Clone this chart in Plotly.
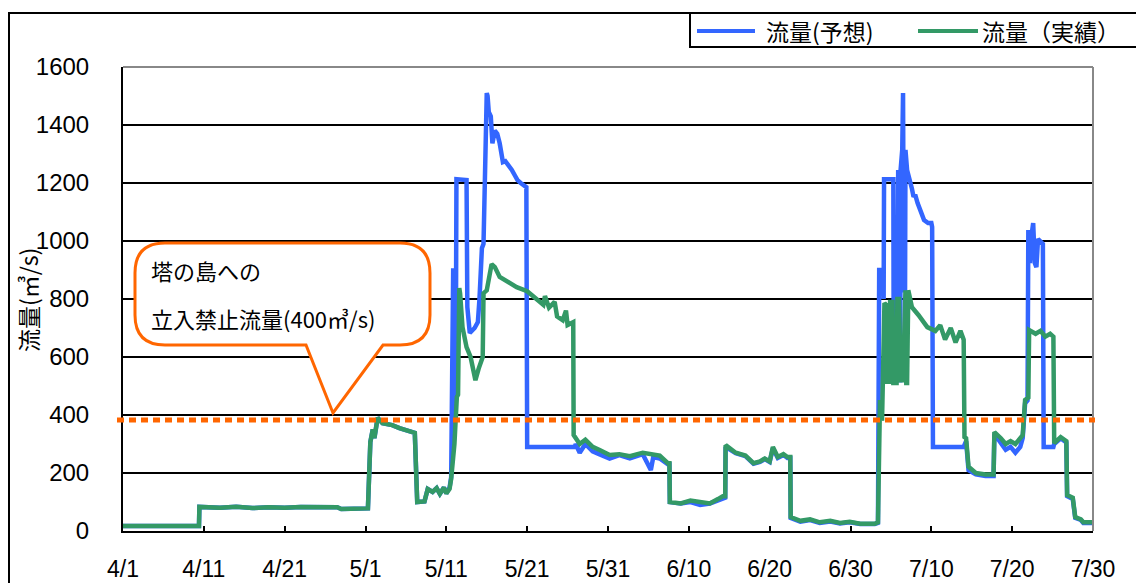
import plotly.graph_objects as go

# ---- data (x = days since 4/1) ----
tick_days = [0, 10, 20, 30, 40, 50, 60, 70, 80, 90, 100, 110, 120]
tick_labels = ["4/1", "4/11", "4/21", "5/1", "5/11", "5/21", "5/31",
               "6/10", "6/20", "6/30", "7/10", "7/20", "7/30"]
y_ticks = [0, 200, 400, 600, 800, 1000, 1200, 1400, 1600]

limit_flow = 383  # 立入禁止流量 line

actual_days = [0, 9.4, 9.45, 12, 14, 16, 18, 20, 22, 24, 26.5, 27, 29, 30.3,
               30.6, 30.9, 31.1, 31.5, 32.1, 33.3, 34.2, 35.2, 36.1, 36.3, 36.4,
               37.3, 37.7, 38.3, 38.8, 39.2, 39.7, 40.0, 40.4, 40.6,
               41.0, 41.3, 41.45, 41.6, 41.7, 42.0, 42.5, 43.0, 43.4, 43.6, 44.0,
               44.2, 44.5, 44.6, 45.0, 45.6, 46.0, 46.6, 47.5, 48.7, 50.0, 51.3,
               52.0, 52.2, 52.7, 53.4, 53.7, 54.4, 54.8, 55.0, 55.5, 55.7,
               55.75, 56.5, 57.2, 58.1, 58.9, 60.2, 61.4, 62.7, 64.3, 65.2, 66.4,
               67.4, 67.6, 67.65, 69.0, 70.2, 71.4, 72.6, 73.6, 74.2, 74.5,
               74.55, 75.8, 77.0, 78.0, 78.8, 79.4, 80.0, 80.4, 81.0, 81.7, 82.2,
               82.55, 82.6, 83.8, 85.0, 86.2, 87.5, 88.7, 89.9, 91.2, 93.0, 93.4,
               93.65, 93.9, 94.2, 94.4, 94.55, 94.8, 94.9, 95.2, 95.3, 95.7, 95.8,
               96.0, 96.2, 96.5, 96.7, 96.8, 96.9, 97.0, 97.15, 97.6, 98.4, 99.5,
               100.5, 101.1, 101.7, 102.4, 103.0, 103.6, 104.0,
               104.1, 104.3, 104.6, 105.5, 106.7, 107.7, 107.8, 108.6, 109.2,
               109.8, 110.4, 111.3, 111.6, 112.0, 112.1, 112.9, 113.5, 114.1,
               114.7, 115.1, 115.2, 116.0, 116.7, 116.8, 117.5, 117.8, 118.5,
               118.8, 120.4]
actual_flow = [17, 17, 83, 80, 84, 79, 82, 80, 83, 81, 82, 76, 75, 78,
               307, 350, 320, 390, 372, 365, 355, 345, 338, 176, 100,
               102, 145, 135, 148, 128, 150, 130, 145, 180,
               300, 462, 470, 838, 820, 703, 634, 600, 540, 520, 560,
               579, 600, 820, 830, 920, 910, 876, 860, 841, 827, 797,
               780, 810, 770, 790, 740, 727, 760, 710, 720, 720,
               331, 300, 315, 290, 280, 262, 265, 258, 270, 265, 260,
               234, 234, 100, 95, 105, 100, 95, 110, 120, 120,
               296, 270, 260, 234, 240, 250, 240, 290, 255, 265, 255,
               255, 48, 35, 40, 30, 35, 28, 32, 25, 25, 30,
               452, 380, 786, 780, 515, 515, 790, 790, 510, 510, 800,
               800, 520, 520, 820, 830, 510, 510, 830, 772, 745, 703,
               690, 710, 660, 700, 650, 690, 660,
               324, 320, 222, 200, 195, 195, 341, 320, 300,
               310, 300, 330, 452, 460, 693, 680, 690, 670,
               680, 670, 303, 324, 310, 124, 115, 48, 40,
               30, 30]

forecast_days = [0, 9.4, 9.45, 12, 14, 16, 18, 20, 22, 24, 26.5, 27, 29, 30.3,
                 30.6, 30.9, 31.1, 31.5, 32.1, 33.3, 34.2, 35.2, 36.1, 36.3, 36.4,
                 37.3, 37.7, 38.3, 38.8, 39.2, 39.7, 40.0, 40.4, 40.6,
                 40.75, 40.85, 40.95, 41.15, 41.25, 42.5, 42.6, 42.9, 43.5, 43.9,
                 44.1, 44.4, 44.6, 44.75, 44.85, 45.0, 45.1, 45.25, 45.5, 45.7,
                 46.0, 46.3, 46.6, 47.0, 47.3, 47.6, 48.1, 48.5, 48.8, 49.2, 49.9,
                 50.0, 55.9, 56.0, 56.5, 57.2, 58.1, 58.9, 60.2, 61.4, 62.7, 64.3,
                 65.3, 65.6, 66.4, 67.4, 67.6, 67.65, 69.0, 70.2, 71.4, 72.6, 73.6,
                 74.2, 74.5, 74.55, 75.8, 77.0, 78.0, 78.8, 79.4, 80.0, 80.4, 81.0,
                 81.7, 82.2, 82.55, 82.6, 83.8, 85.0, 86.2, 87.5, 88.7, 89.9, 91.2,
                 93.0, 93.4, 93.55, 94.05, 94.1, 94.15, 95.3, 95.35, 95.75, 95.8,
                 95.9, 95.95, 96.15, 96.2, 96.4, 96.5, 96.6, 96.75, 96.8, 97.0,
                 97.4, 97.6, 97.8, 98.0, 98.3, 98.6, 98.9, 99.1, 99.6, 100.0, 100.1,
                 100.2, 104.0, 104.3, 104.6, 105.5, 106.7, 107.7, 107.8, 108.6,
                 109.2, 109.8, 110.4, 111.0, 111.3, 111.6, 111.9, 112.0, 112.2,
                 112.4, 112.6, 112.8, 113.0, 113.2, 113.5, 113.8, 113.9, 115.1,
                 115.2, 116.0, 116.7, 116.8, 117.5, 117.8, 118.5, 118.8, 120.4]
forecast_flow = [17, 17, 83, 80, 84, 79, 82, 80, 83, 81, 82, 76, 75, 78,
                 307, 350, 320, 390, 372, 365, 355, 345, 338, 176, 100,
                 102, 145, 135, 148, 128, 150, 130, 150, 186,
                 906, 906, 410, 420, 1213, 1210, 772, 683, 700, 720,
                 800, 975, 990, 1250, 1280, 1510, 1500, 1445, 1430, 1337,
                 1380, 1370, 1337, 1272, 1275, 1265, 1245, 1225, 1210, 1200, 1186,
                 290, 290, 300, 270, 300, 275, 265, 250, 262, 250, 265,
                 210, 255, 250, 230, 230, 100, 95, 100, 90, 95, 105,
                 115, 115, 290, 268, 258, 232, 238, 248, 238, 285, 252,
                 262, 252, 252, 45, 32, 38, 28, 33, 26, 30, 24,
                 24, 28, 900, 900, 800, 1213, 1213, 520, 520, 1245,
                 1245, 520, 520, 1245, 1314, 1510, 830, 830, 1314, 1245,
                 1210, 1180, 1152, 1160, 1131, 1110, 1096, 1072, 1062, 1062, 1048,
                 290, 290, 310, 210, 195, 190, 190, 335, 300,
                 280, 290, 270, 290, 320, 440, 450, 1038, 924,
                 1020, 1062, 924, 910, 1007, 1000, 990, 290, 290,
                 300, 320, 305, 120, 110, 45, 38, 28, 28]

# ---- geometry helpers (layout decoration only; page pixels) ----
OFF = 8                       # default page margin around the plot div
W, H = 1144 - OFF, 583 - OFF
PL, PR, PT, PB = 123, 1093, 67, 531   # plot area in page pixels
ML, MR, MT, MB = PL - OFF, 1144 - PR, PT - OFF, 583 - PB
PW, PH = PR - PL, PB - PT


def px(x):
    return (x - PL) / PW


def py(y):
    return (PB - y) / PH


def P(x, y):
    return f"{px(x):.5f},{py(y):.5f}"


BLUE = "#3366FF"
GREEN = "#339966"
ORANGE = "#FF6600"
CJK = "Noto Sans CJK JP"
NUM = "Liberation Sans, Arial, sans-serif"

fig = go.Figure()
fig.add_trace(go.Scatter(x=forecast_days, y=forecast_flow, mode="lines",
                         name="流量(予想)", line=dict(color=BLUE, width=4.5)))
fig.add_trace(go.Scatter(x=actual_days, y=actual_flow, mode="lines",
                         name="流量（実績）", line=dict(color=GREEN, width=4.5)))

shapes = []
# outer chart frame (extends beyond the visible crop)
shapes.append(dict(type="rect", xref="paper", yref="paper",
                   x0=px(9), x1=px(1200), y0=py(640), y1=py(13),
                   line=dict(color="black", width=2), fillcolor="rgba(0,0,0,0)",
                   layer="below"))
# plot area border (grey, top and right)
shapes.append(dict(type="line", xref="paper", yref="paper", x0=0, x1=1, y0=1, y1=1,
                   line=dict(color="#888888", width=2)))
shapes.append(dict(type="line", xref="paper", yref="paper", x0=1, x1=1, y0=0, y1=1,
                   line=dict(color="#888888", width=2)))
# limit line
shapes.append(dict(type="line", xref="paper", yref="y", x0=px(117), x1=px(1095),
                   y0=limit_flow, y1=limit_flow,
                   line=dict(color=ORANGE, width=5, dash="7px,5px")))
# callout bubble
L, R, T, B, r = 135, 430, 243, 345, 30
path = (f"M {P(L + r, T)} L {P(R - r, T)} Q {P(R, T)} {P(R, T + r)} "
        f"L {P(R, B - r)} Q {P(R, B)} {P(R - r, B)} L {P(383, B)} L {P(333, 413)} "
        f"L {P(306, B)} L {P(L + r, B)} Q {P(L, B)} {P(L, B - r)} "
        f"L {P(L, T + r)} Q {P(L, T)} {P(L + r, T)} Z")
shapes.append(dict(type="path", xref="paper", yref="paper", path=path,
                   line=dict(color=ORANGE, width=3), fillcolor="white"))
# legend box
shapes.append(dict(type="rect", xref="paper", yref="paper",
                   x0=px(690), x1=px(1200), y0=py(47), y1=py(13),
                   line=dict(color="black", width=2), fillcolor="white"))
shapes.append(dict(type="line", xref="paper", yref="paper", x0=px(697), x1=px(755),
                   y0=py(31), y1=py(31), line=dict(color=BLUE, width=4)))
shapes.append(dict(type="line", xref="paper", yref="paper", x0=px(918), x1=px(978),
                   y0=py(31), y1=py(31), line=dict(color=GREEN, width=4)))

annotations = [
    dict(text="流量(予想)", xref="paper", yref="paper", x=px(764), y=py(31),
         xanchor="left", yanchor="middle", showarrow=False,
         font=dict(family=CJK, size=23, color="black")),
    dict(text="流量（実績）", xref="paper", yref="paper", x=px(980), y=py(31),
         xanchor="left", yanchor="middle", showarrow=False,
         font=dict(family=CJK, size=23, color="black")),
    dict(text="塔の島への", xref="paper", yref="paper", x=px(149), y=py(270),
         xanchor="left", yanchor="middle", showarrow=False,
         font=dict(family=CJK, size=22, color="black")),
    dict(text="立入禁止流量(400㎥/s)", xref="paper", yref="paper", x=px(149), y=py(318),
         xanchor="left", yanchor="middle", showarrow=False,
         font=dict(family=CJK, size=22, color="black")),
    dict(text="流量(㎥/s)", xref="paper", yref="paper", x=px(28), y=py(300),
         xanchor="center", yanchor="middle", showarrow=False, textangle=-90,
         font=dict(family=CJK, size=23, color="black")),
]

fig.update_layout(
    width=W, height=H,
    margin=dict(l=ML, r=MR, t=MT, b=MB, autoexpand=False),
    paper_bgcolor="white", plot_bgcolor="white",
    showlegend=False,
    shapes=shapes, annotations=annotations,
    xaxis=dict(range=[0, 120], tickmode="array", tickvals=tick_days,
               ticktext=tick_labels, showgrid=False, zeroline=False,
               showline=True, linecolor="black", linewidth=2,
               ticks="inside", ticklen=5, tickcolor="black", tickwidth=2,
               ticklabelstandoff=16,
               tickfont=dict(family=NUM, size=23, color="black")),
    yaxis=dict(range=[0, 1600], tickmode="array", tickvals=y_ticks,
               showgrid=True, gridcolor="black", gridwidth=1.5, zeroline=False,
               showline=True, linecolor="black", linewidth=2,
               ticks="", ticklabelstandoff=27,
               tickfont=dict(family=NUM, size=24, color="black")),
)

fig.write_html("out.html")
